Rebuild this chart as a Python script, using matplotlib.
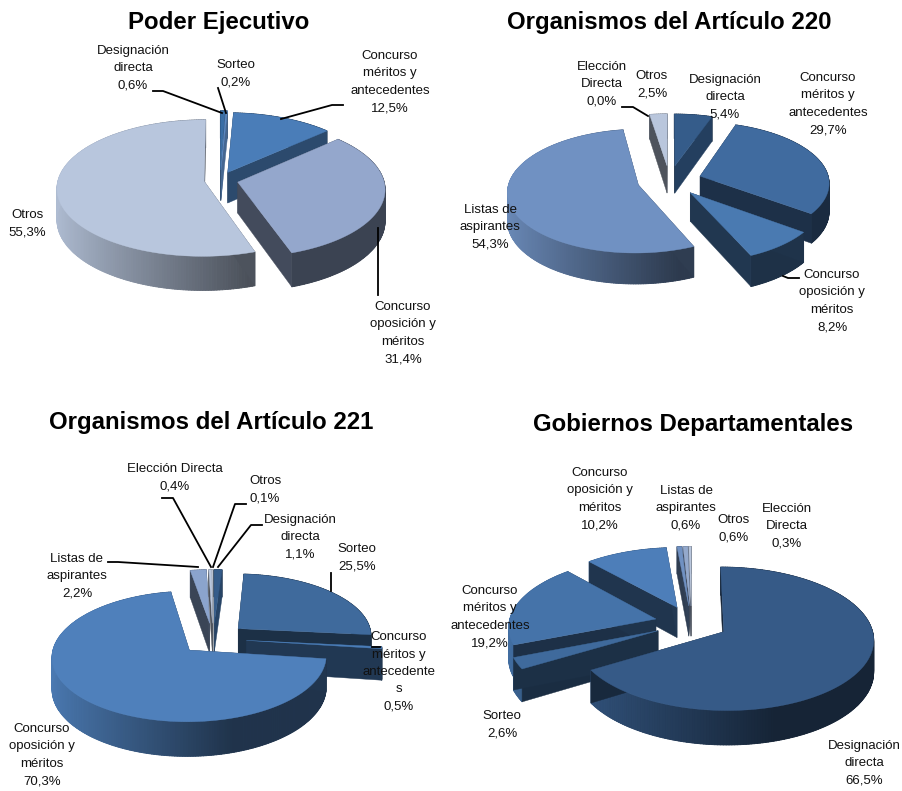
"""
Exploded 3D-look pies for the four groups of organisms.
"""

import numpy as np
import matplotlib
matplotlib.use('Agg')
import matplotlib.pyplot as plt
from matplotlib.collections import PolyCollection
from matplotlib.colors import to_rgb

plt.rcParams['font.family'] = ['Liberation Sans', 'DejaVu Sans']

# Data, clockwise from 12 o'clock
names_ejecutivo = ['Designación\ndirecta', 'Sorteo', 'Concurso\nméritos y\nantecedentes',
                   'Concurso\noposición y\nméritos', 'Otros']
values_ejecutivo = [0.6, 0.2, 12.5, 31.4, 55.3]

names_220 = ['Designación\ndirecta', 'Concurso\nméritos y\nantecedentes',
             'Concurso\noposición y\nméritos', 'Listas de\naspirantes',
             'Elección\nDirecta', 'Otros']
values_220 = [5.4, 29.7, 8.2, 54.3, 0.0, 2.5]

names_221 = ['Designación\ndirecta', 'Sorteo', 'Concurso\nméritos y\nantecedente\ns',
             'Concurso\noposición y\nméritos', 'Listas de\naspirantes',
             'Elección Directa', 'Otros']
values_221 = [1.1, 25.5, 0.5, 70.3, 2.2, 0.4, 0.1]

names_dep = ['Designación\ndirecta', 'Sorteo', 'Concurso\nméritos y\nantecedentes',
             'Concurso\noposición y\nméritos', 'Listas de\naspirantes', 'Otros',
             'Elección\nDirecta']
values_dep = [66.5, 2.6, 19.2, 10.2, 0.6, 0.6, 0.3]

# Colours of the top faces
colors_ejecutivo = ['#3a6ea5', '#5d8bc4', '#4a7db8', '#94a7cc', '#b8c6dd']
colors_220 = ['#355c8a', '#406b9f', '#4a7ab1', '#7091c2', '#8aa0c5', '#b9c6dc']
colors_221 = ['#355c8a', '#3f6a9c', '#4a7db8', '#4f80bb', '#8ba4cd', '#b9c6dc', '#d0d9e8']
colors_dep = ['#365a87', '#3f6a9c', '#4573a9', '#4d7eb9', '#7091c2', '#94a9cc', '#b9c6dc']

# Label centres in figure pixels
label_pos_ejecutivo = [(133, 68), (236, 74), (390, 82), (403, 333), (27, 224)]
label_pos_220 = [(725, 97), (828, 104), (832, 301), (490, 227), (602, 84), (652, 85)]
label_pos_221 = [(300, 537), (357, 558), (399, 672), (42, 755), (77, 576), (175, 478), (265, 490)]
label_pos_dep = [(864, 763), (502, 725), (490, 617), (600, 499), (686, 508), (734, 529), (787, 526)]

leaders_ejecutivo = [[(153, 91), (163, 91), (222, 113)], [(218, 88), (226, 113)],
                     [(343, 105), (332, 105), (281, 119)], [(378, 295), (378, 228)]]
leaders_220 = [[(622, 107), (633, 107), (648, 116)], [(799, 278), (788, 278), (783, 276)]]
leaders_221 = [[(108, 562), (118, 562), (198, 567)], [(162, 498), (173, 498), (211, 567)],
               [(246, 504), (235, 504), (213, 567)], [(262, 525), (251, 525), (218, 567)],
               [(331, 573), (331, 591)], [(372, 647), (380, 647)]]
leaders_dep = []

PERSPECTIVE = 0.1


def project(u, v, geom, drop=0.0):
    """Unit disc coordinates (v towards the viewer) to figure pixels."""
    cx, cy, rx, ry, depth = geom
    s = 1 + PERSPECTIVE * v
    return cx + rx * u * s, cy + ry * v * s + depth * s * drop


def shade(color, k):
    return tuple(np.array(to_rgb(color)) * k)


def arc_shade(theta):
    # light comes from the left, the right half stays dark
    return np.clip(0.4 + 0.55 * (0.3 - np.sin(theta)) / 1.3, 0.4, 0.95)


def draw_pie(ax, values, colors, explode, geom):
    total = sum(values)
    edges = np.concatenate([[0], np.cumsum(values)]) / total * 2 * np.pi
    mids = (edges[:-1] + edges[1:]) / 2
    # back to front
    order = np.argsort(-np.cos(mids))
    z = 2
    for i in order:
        if values[i] == 0:
            continue
        t0, t1 = edges[i], edges[i + 1]
        ou, ov = explode[i] * np.sin(mids[i]), -explode[i] * np.cos(mids[i])
        n = max(int(np.degrees(t1 - t0)), 2)
        th = np.linspace(t0, t1, n + 1)
        us, vs = ou + np.sin(th), ov - np.cos(th)

        # solid wall underneath so the strips do not leave seams
        tx, ty = project(us, vs, geom)
        bx, by = project(us, vs, geom, 1)
        mid_shade = arc_shade((t0 + t1) / 2)
        ax.fill(np.r_[tx, bx[::-1]], np.r_[ty, by[::-1]], color=shade(colors[i], mid_shade),
                lw=0, zorder=z)
        z += 1

        # outer wall, one strip per step so the shading can change
        strips, strip_colors = [], []
        for j in range(n):
            strips.append([(tx[j], ty[j]), (tx[j + 1], ty[j + 1]),
                           (bx[j + 1], by[j + 1]), (bx[j], by[j])])
            strip_colors.append(shade(colors[i], arc_shade((th[j] + th[j + 1]) / 2)))
        ax.add_collection(PolyCollection(strips, facecolors=strip_colors, edgecolors=strip_colors,
                                         linewidths=0.6, zorder=z))
        z += 1

        # the two radial walls
        apex_t = project(ou, ov, geom)
        apex_b = project(ou, ov, geom, 1)
        for k, wall_shade in ((0, 0.42), (n, 0.45 + 0.3 * max(0, np.pi / 2 - t1) / (np.pi / 2))):
            ax.fill([apex_t[0], tx[k], bx[k], apex_b[0]],
                    [apex_t[1], ty[k], by[k], apex_b[1]],
                    color=shade(colors[i], wall_shade), lw=0.3, zorder=z)
            z += 1

        # top face
        ax.fill(np.r_[apex_t[0], tx], np.r_[apex_t[1], ty], color=colors[i], lw=0.3, zorder=z)
        z += 1
    return z


def draw_panel(ax, title, title_pos, names, values, colors, explode, geom, label_pos, leaders):
    z = draw_pie(ax, values, colors, explode, geom)
    ax.text(title_pos[0], title_pos[1], title, fontsize=17.3, fontweight='bold',
            ha='center', va='center', zorder=z + 2)
    for name, value, pos in zip(names, values, label_pos):
        txt = f'{name}\n{value:.1f}%'.replace('.', ',')
        ax.text(pos[0], pos[1], txt, fontsize=9.5, ha='center', va='center',
                linespacing=1.6, color='#111111', zorder=z + 2)
    for line in leaders:
        xs, ys = zip(*line)
        ax.plot(xs, ys, color='black', lw=1.3, zorder=z + 1)


fig = plt.figure(figsize=(9.02, 7.91), dpi=100)
ax = fig.add_axes([0, 0, 1, 1])
ax.set_xlim(0, 902)
ax.set_ylim(791, 0)
ax.axis('off')

draw_panel(ax, 'Poder Ejecutivo', (219, 22), names_ejecutivo, values_ejecutivo, colors_ejecutivo,
           [0.15, 0.15, 0.125, 0.125, 0.11], (220, 180, 146, 68, 31),
           label_pos_ejecutivo, leaders_ejecutivo)
draw_panel(ax, 'Organismos del Artículo 220', (669, 23), names_220, values_220, colors_220,
           [0.25] * 6, (669.5, 180.6, 129, 61, 28), label_pos_220, leaders_220)
draw_panel(ax, 'Organismos del Artículo 221', (211, 423), names_221, values_221, colors_221,
           [0.25] * 7, (213, 638.6, 134, 63, 31), label_pos_221, leaders_221)
draw_panel(ax, 'Gobiernos Departamentales', (693, 425), names_dep, values_dep, colors_dep,
           [0.25] * 7, (691.5, 623, 147, 70, 31), label_pos_dep, leaders_dep)

fig.savefig('out.png', dpi=100)
